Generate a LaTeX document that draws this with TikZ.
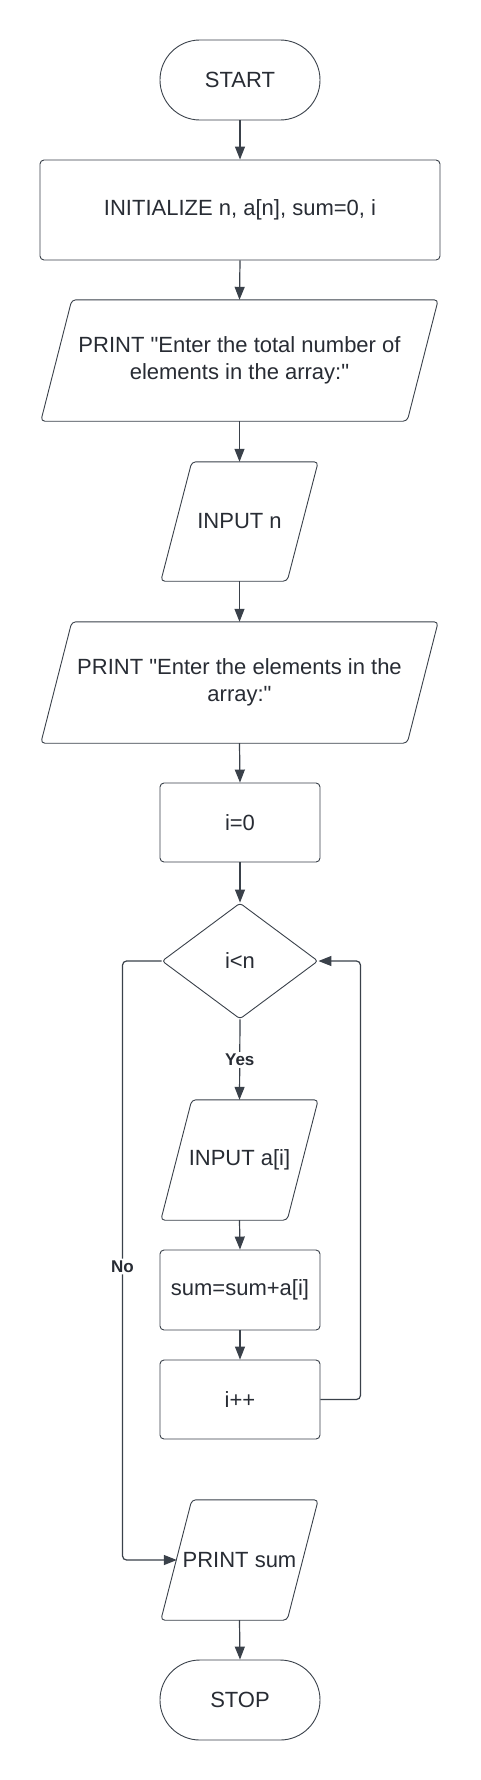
\documentclass[tikz,border=0pt]{standalone}
\usepackage{fontspec}
\setmainfont{Liberation Sans}[Ligatures=TeXOff]
\usetikzlibrary{arrows.meta,calc,shapes.geometric}
\definecolor{lc}{RGB}{58,65,74}
\definecolor{tc}{RGB}{40,44,52}
\begin{document}
\begin{tikzpicture}[x=1pt,y=-1pt,
  every node/.style={font=\fontsize{22}{26.5}\selectfont, text=tc},
  outl/.style={draw=lc, line width=0.9pt},
  proc/.style={outl, rounded corners=4pt, minimum width=160pt, minimum height=80pt, inner sep=0pt},
  term/.style={outl, rounded corners=39.9pt, minimum width=160pt, minimum height=80pt, inner sep=0pt},
  iobox/.style={inner sep=0pt, align=center},
  para/.style={outl, rounded corners=4pt},
  conn/.style={draw=lc, line width=1.2pt, -{Triangle[length=13pt,width=10pt]}},
  lbl/.style={font=\fontsize{17}{18}\selectfont\bfseries, fill=white, inner sep=2pt, text=tc},
]
\useasboundingbox (0,0) rectangle (480,1780);
\fill[white] (0,0) rectangle (480,1780);

% nodes
\node[term] (start) at (240,80) {START};
\node[proc, minimum width=400pt, minimum height=100pt] (init) at (240,210) {INITIALIZE n, a[n], sum=0, i};
\node[iobox, minimum width=397pt, minimum height=121pt] (p1) at (239.5,360.5) {PRINT "Enter the total number of\\elements in the array:"};
\node[iobox, minimum width=157pt, minimum height=119pt] (in1) at (239.5,521.5) {INPUT n};
\node[iobox, minimum width=397pt, minimum height=121pt] (p2) at (239.5,682.5) {PRINT "Enter the elements in the\\array:"};
\node[proc, minimum height=79pt] (i0) at (240,822.5) {i=0};
\node[outl, diamond, minimum width=156pt, minimum height=116pt, inner sep=0pt, rounded corners=3pt] (dia) at (240,961) {i<n};
\node[iobox, minimum width=157pt, minimum height=120pt] (ina) at (239.5,1160) {INPUT a[i]};
\node[proc] (sum) at (240,1290) {sum=sum+a[i]};
\node[proc, minimum height=79pt] (inc) at (240,1399.5) {i++};
\node[iobox, minimum width=157pt, minimum height=120pt] (ps) at (239.5,1560) {PRINT sum};
\node[term] (stop) at (240,1700) {STOP};

% parallelogram outlines
\draw[para] (p1.south west) -- ($(p1.south east)+(-31,0)$) -- (p1.north east) -- ($(p1.north west)+(31,0)$) -- cycle;
\draw[para] (in1.south west) -- ($(in1.south east)+(-31,0)$) -- (in1.north east) -- ($(in1.north west)+(31,0)$) -- cycle;
\draw[para] (p2.south west) -- ($(p2.south east)+(-31,0)$) -- (p2.north east) -- ($(p2.north west)+(31,0)$) -- cycle;
\draw[para] (ina.south west) -- ($(ina.south east)+(-31,0)$) -- (ina.north east) -- ($(ina.north west)+(31,0)$) -- cycle;
\draw[para] (ps.south west) -- ($(ps.south east)+(-31,0)$) -- (ps.north east) -- ($(ps.north west)+(31,0)$) -- cycle;
\coordinate (psl) at ($(ps.west)+(16,0)$);

% connectors
\draw[conn] (start.south) -- (init.north);
\draw[conn] (init.south) -- (p1.north);
\draw[conn] (p1.south) -- (in1.north);
\draw[conn] (in1.south) -- (p2.north);
\draw[conn] (p2.south) -- (i0.north);
\draw[conn] (i0.south) -- (dia.north);
\draw[conn] (dia.south) -- node[lbl, midway] {Yes} (ina.north);
\draw[conn] (ina.south) -- (sum.north);
\draw[conn] (sum.south) -- (inc.north);
\draw[conn, rounded corners=4pt] (inc.east) -- ++(40,0) |- (dia.east);
\draw[conn, rounded corners=4pt] (dia.west) -- ++(-39,0) |- node[lbl, pos=0.255] {No} (psl);
\draw[conn] (ps.south) -- (stop.north);
\end{tikzpicture}
\end{document}
